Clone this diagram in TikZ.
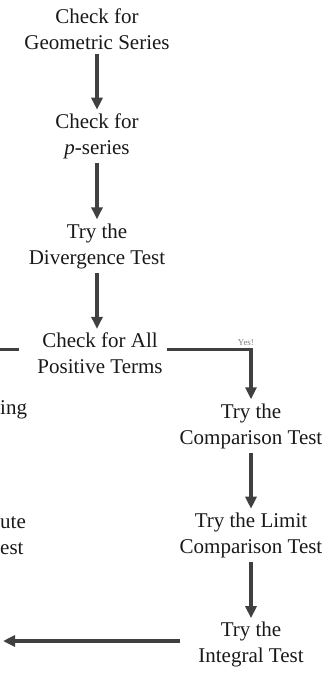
\documentclass[tikz,border=0pt]{standalone}
\usepackage{fontspec}
\setmainfont{Liberation Serif}
\usetikzlibrary{arrows.meta,%
                positioning}
\definecolor{inkgray}{rgb}{0.25,0.25,0.25}
\definecolor{textgray}{rgb}{0.1,0.1,0.1}

\begin{document}
\begin{tikzpicture}[x = 1pt, y = -1pt, node distance = 56pt]
  \useasboundingbox (0,0) rectangle (335,677);
  \tikzset{StepStyle/.style  = {align          = center,
                                text           = textgray,
                                inner sep      = 4pt,
                                font           = \fontsize{21}{26}\selectfont}}
  \tikzset{ArrowStyle/.style = {draw           = inkgray,
                                line width     = 3.5pt,
                                -{Triangle[length = 12pt, width = 11pt]}}}
  \tikzset{LineStyle/.style  = {draw           = inkgray,
                                line width     = 3pt}}
  \tikzset{YesStyle/.style   = {text           = gray,
                                inner sep      = 2pt,
                                font           = \fontsize{9}{10}\selectfont}}
     \node[StepStyle](geo) at (97,29) {Check for\\Geometric Series};
     \node[StepStyle,below=of geo](pser) {Check for\\\textit{p}-series};
     \node[StepStyle,below=of pser](div) {Try the\\Divergence Test};
     \node[StepStyle,below=of div,xshift=3pt](pos) {Check for All\\Positive Terms};
     \node[StepStyle](comp) at (251,426) {Try the\\Comparison Test};
     \node[StepStyle,below=of comp](limit) {Try the Limit\\Comparison Test};
     \node[StepStyle,below=of limit](integ) {Try the\\Integral Test};
%    cut-off texts at the left edge
     \node[StepStyle,anchor=base west,inner sep=0pt](alt) at (0,414) {ing};
     \node[StepStyle,anchor=west,align=left,inner sep=0pt](abs) at (0,536) {ute\\est};
     \coordinate (posleft) at (0,349);
     \coordinate (intleft) at (3,641);
     \draw[ArrowStyle](geo) -- (pser);
     \draw[ArrowStyle](pser) -- (div);
     \draw[ArrowStyle](div.south) -- (div.south |- pos.north);
     \draw[ArrowStyle]([yshift=4pt]pos.east) -| node[YesStyle,pos=0.47,above]{Yes!} (comp.north);
     \draw[LineStyle,shorten <=14pt](pos.west |- posleft) -- (posleft);
     \draw[ArrowStyle](comp) -- (limit);
     \draw[ArrowStyle](limit) -- (integ);
     \draw[ArrowStyle,shorten <=14pt](integ.west |- intleft) -- (intleft);
\end{tikzpicture}
\end{document}
